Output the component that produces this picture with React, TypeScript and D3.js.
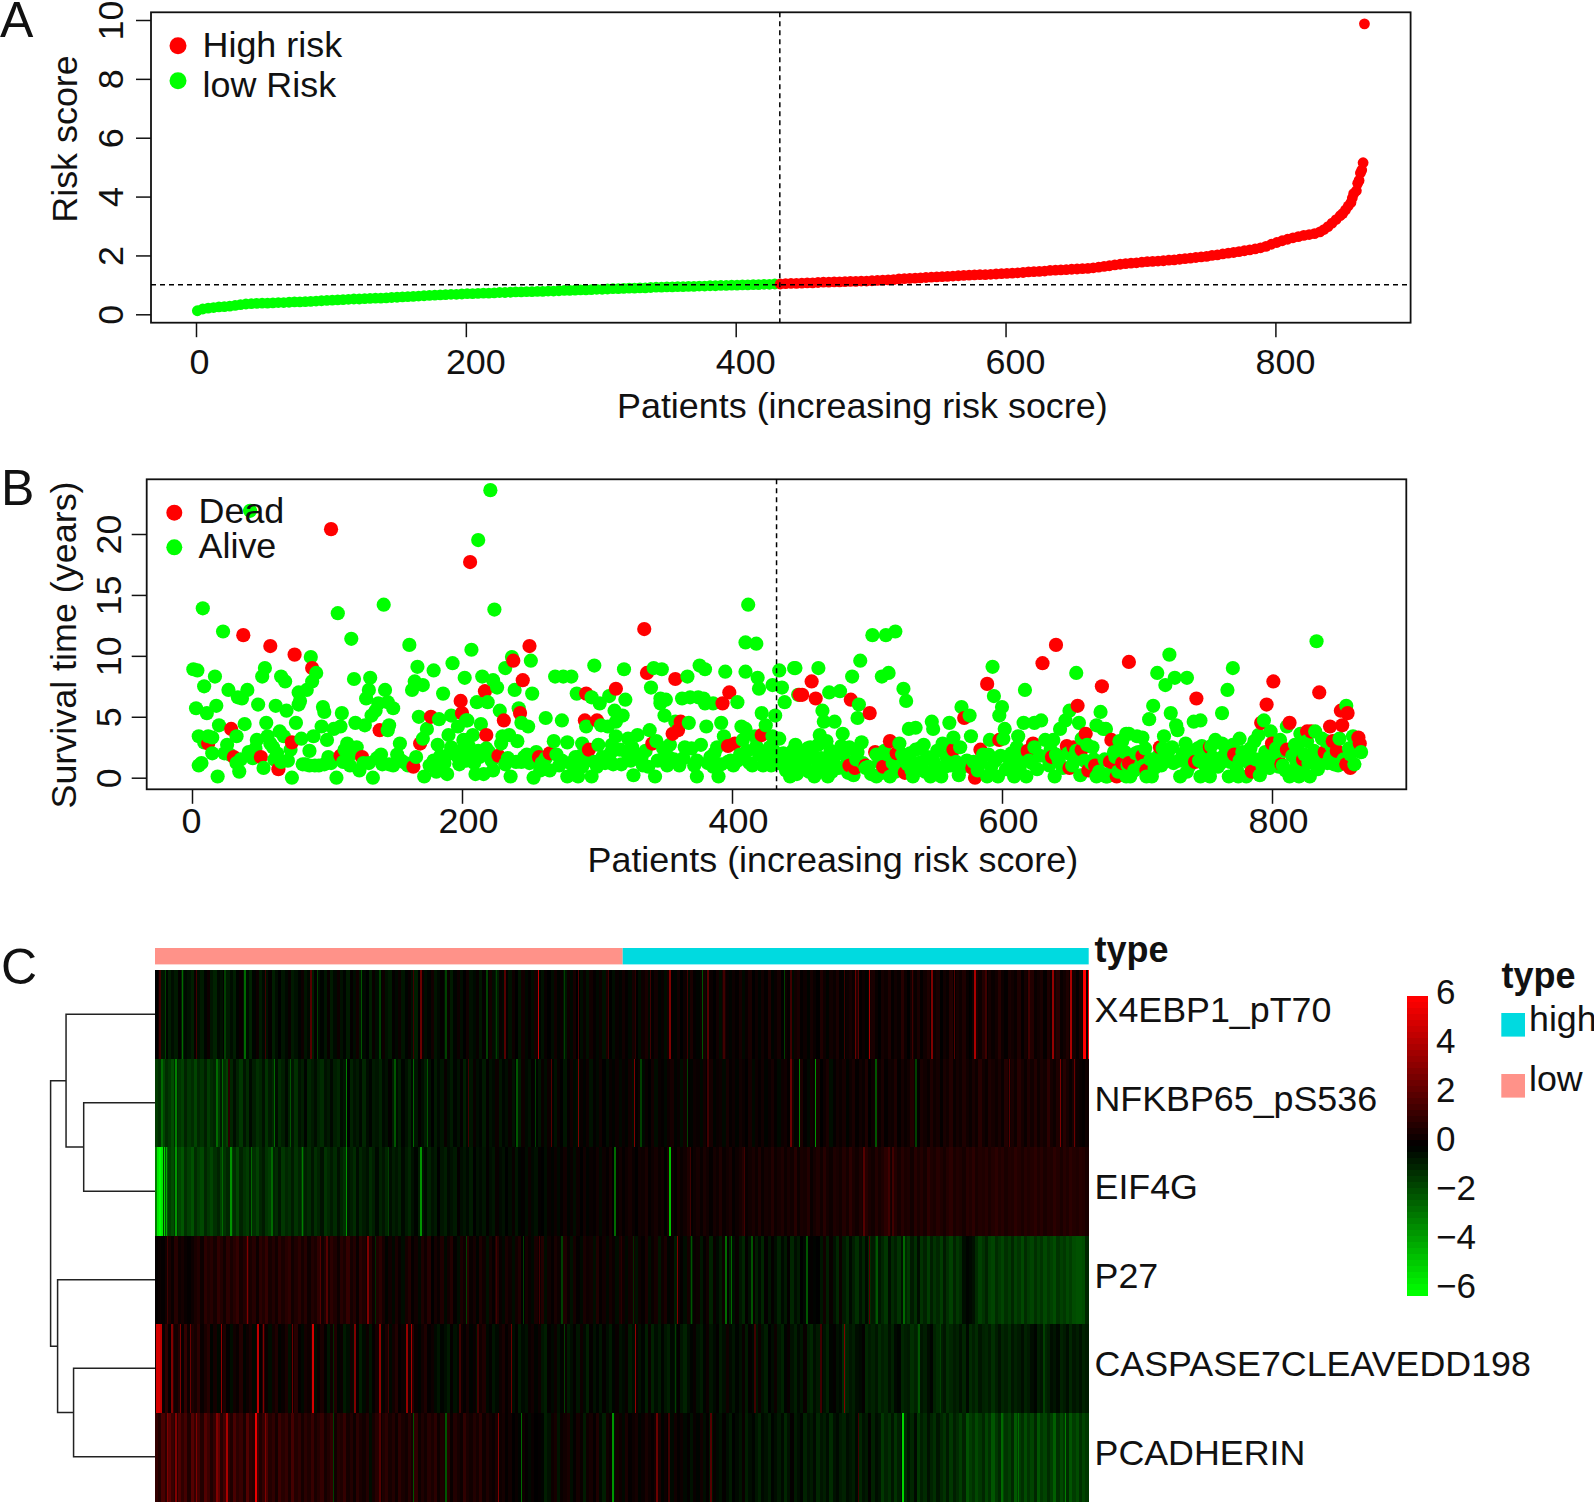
import { useEffect, useRef } from 'react';
import * as d3 from 'd3';

// Panel A: risk score per patient, sampled every 4th patient along the curve
const riskLowScores = [
  0.12,0.18,0.21,0.23,0.25,0.26,0.28,0.30,0.33,0.35,0.36,0.37,0.38,0.38,0.39,0.40,0.40,0.41,0.42,0.42,0.43,0.44,0.45,0.46,0.47,
  0.48,0.49,0.50,0.51,0.52,0.52,0.53,0.54,0.55,0.55,0.56,0.57,0.58,0.59,0.60,0.61,0.62,0.63,0.64,0.65,0.66,0.67,0.68,0.68,0.69,
  0.70,0.70,0.71,0.72,0.72,0.73,0.74,0.74,0.75,0.76,0.76,0.77,0.77,0.78,0.78,0.79,0.79,0.80,0.81,0.81,0.82,0.83,0.83,0.84,0.85,
  0.85,0.86,0.87,0.87,0.88,0.89,0.89,0.90,0.90,0.91,0.92,0.92,0.93,0.93,0.94,0.94,0.95,0.95,0.96,0.96,0.97,0.97,0.98,0.98,0.99,
  0.99,1.00,1.00,1.01,1.01,1.02,1.02,1.03,
];
const riskHighScores = [
  1.03,1.04,1.05,1.05,1.06,1.07,1.07,1.08,1.09,1.09,1.10,1.10,1.11,1.12,1.12,1.13,1.13,1.14,
  1.15,1.16,1.17,1.18,1.20,1.21,1.22,1.23,1.24,1.25,1.26,1.27,1.28,
  1.29,1.30,1.31,1.32,1.33,1.34,1.35,1.35,1.36,1.37,1.38,1.39,
  1.40,1.41,1.42,1.44,1.45,1.46,1.47,1.49,1.50,1.51,1.52,1.53,1.54,
  1.55,1.56,1.58,1.60,1.63,1.65,1.68,1.70,1.72,1.74,1.75,1.77,1.79,
  1.80,1.81,1.82,1.84,1.85,1.87,1.89,1.91,1.93,1.95,1.97,2.00,
  2.02,2.05,2.08,2.10,2.13,2.16,2.19,2.22,2.26,2.31,2.38,2.44,
  2.50,2.55,2.60,2.64,2.68,2.71,2.74,
];
// the steep tail, read point by point: [patient, score]
const riskTail = [
  [833,2.80],[836,2.88],[839,2.98],[842,3.10],[845,3.22],[848,3.35],[850,3.43],[852,3.55],[854,3.68],[856,3.80],
  [857,3.95],[858,4.10],[860,4.20],[861,4.45],[862,4.55],[863,4.80],[864,4.90],[865,5.15],[866,9.87],
];

// Panel B: [patient, survival years]
const deadPoints = [
  [38,11.7],[58,10.8],[76,10.1],[89,9.0],[29,4.0],[12,2.8],[31,1.7],[51,1.7],[64,0.7],[74,2.9],[139,3.9],[110,1.8],[126,1.7],
  [164,0.9],[169,2.8],[177,5.0],[199,6.3],[200,5.3],[103,20.4],[206,17.7],[250,10.8],[238,9.6],[245,8.0],[217,7.1],[231,4.7],
  [243,5.3],[218,3.5],[227,1.8],[257,1.7],[265,2.0],[292,6.9],[291,4.7],[300,4.7],[294,2.3],[314,7.3],[335,12.2],[337,8.6],
  [341,2.8],[358,8.1],[398,7.0],[393,6.1],[362,4.6],[360,3.9],[356,3.6],[397,2.6],[402,2.8],[422,3.5],[450,6.8],[459,7.9],
  [452,6.8],[462,6.5],[488,6.4],[502,5.3],[517,3.0],[506,2.1],[487,1.0],[491,0.8],[499,1.0],[512,0.9],[522,2.0],[528,0.4],
  [572,4.9],[564,2.3],[584,2.3],[598,3.1],[589,7.7],[578,0.8],[580,0.0],[630,9.4],[640,10.9],[674,7.5],[656,5.9],[662,3.6],
  [694,9.5],[623,2.8],[619,2.2],[637,1.7],[648,2.6],[653,2.5],[659,2.3],[650,0.8],[664,0.6],[669,1.0],[681,3.1],[685,0.1],
  [680,1.3],[690,1.2],[694,1.2],[744,6.5],[801,7.9],[835,7.0],[796,6.0],[792,4.5],[813,4.5],[800,2.8],[811,2.3],[826,3.8],
  [829,3.8],[843,4.2],[852,4.3],[856,5.3],[851,5.5],[864,3.3],[865,2.8],[848,2.2],[845,3.0],[839,2.1],[858,0.8],[855,1.1],
  [823,1.5],[807,1.1],[785,0.5],[772,1.9],[754,2.5],[743,1.3],[717,2.5],[704,1.8],[697,1.3],[689,1.2],[681,1.3],[707,0.6],
];
const alivePoints = [
  [43,21.9],[8,13.9],[23,12.0],[1,8.9],[4,8.8],[17,8.3],[9,7.5],[27,7.2],[34,6.6],[37,6.5],[41,7.2],[54,9.0],[52,8.3],[66,8.3],
  [69,7.9],[49,6.0],[62,5.9],[70,5.5],[79,6.0],[80,6.3],[79,7.0],[85,7.2],[89,7.9],[92,8.6],[88,9.9],[3,5.7],[11,5.3],[18,5.9],
  [20,4.3],[5,3.4],[15,3.3],[9,2.9],[39,4.4],[33,3.4],[26,2.7],[24,2.0],[15,2.0],[7,1.2],[5,1.0],[33,1.2],[35,0.5],[19,0.1],
  [42,2.1],[45,1.6],[48,3.1],[55,4.5],[56,3.4],[60,2.5],[65,3.8],[68,3.4],[53,0.8],[63,2.0],[71,1.4],[73,2.3],[74,0.0],[77,4.5],
  [81,3.2],[87,2.2],[82,1.1],[87,1.0],[94,1.0],[97,5.8],[98,5.4],[111,5.3],[96,4.2],[100,3.1],[90,3.4],[105,4.0],[110,4.2],
  [101,1.7],[107,0.0],[115,2.8],[122,2.5],[115,1.7],[117,1.0],[124,0.6],[131,1.2],[134,0.0],[137,1.6],[140,1.9],[120,8.1],
  [132,8.2],[131,7.2],[129,6.5],[143,7.2],[138,6.1],[145,6.2],[149,5.7],[136,5.5],[133,5.1],[121,4.5],[128,4.3],[146,4.3],
  [145,3.9],[154,2.8],[152,1.9],[149,1.0],[158,1.2],[166,1.7],[142,14.2],[108,13.5],[118,11.4],[161,10.9],[167,9.1],[179,8.8],
  [193,9.4],[165,7.9],[171,7.6],[163,7.2],[186,6.9],[202,8.2],[168,5.0],[183,4.8],[192,5.1],[197,4.2],[190,3.5],[171,3.2],
  [174,4.0],[172,0.1],[179,1.4],[182,2.7],[181,0.5],[189,0.3],[191,2.0],[197,1.7],[201,3.1],[203,4.7],[203,1.4],[201,2.4],
  [221,23.6],[212,19.5],[224,13.8],[207,10.5],[412,14.2],[410,11.1],[418,11.0],[237,9.9],[232,9.0],[251,9.6],[215,8.3],[223,8.0],
  [226,7.4],[239,7.2],[252,6.9],[211,6.2],[219,6.2],[228,5.5],[242,5.7],[204,4.7],[214,4.4],[208,3.5],[204,3.1],[230,3.4],
  [235,3.5],[229,2.8],[241,3.0],[244,4.5],[249,4.2],[262,4.9],[274,4.7],[269,8.3],[275,8.3],[281,8.3],[285,6.9],[298,9.2],
  [320,8.9],[296,6.6],[302,6.1],[309,6.7],[321,6.4],[313,5.5],[319,5.1],[314,4.6],[308,4.2],[303,4.3],[292,4.2],[268,3.0],
  [278,2.9],[289,2.8],[301,2.7],[314,3.4],[311,2.7],[206,1.7],[213,1.7],[220,2.1],[210,0.3],[216,0.3],[223,0.6],[236,0.1],
  [234,1.6],[240,1.3],[246,1.7],[255,2.1],[250,1.2],[253,0.0],[259,1.2],[265,0.6],[270,1.9],[274,1.4],[284,1.7],[278,0.1],
  [286,0.1],[296,0.1],[289,0.9],[283,1.0],[298,1.3],[306,1.2],[310,2.0],[323,3.2],[322,2.1],[330,3.5],[325,1.4],[333,1.7],
  [327,0.2],[334,1.0],[339,3.9],[344,3.0],[343,0.1],[345,1.4],[353,1.7],[354,2.7],[342,9.0],[348,8.9],[340,7.4],[347,6.5],
  [351,6.4],[347,6.1],[350,5.1],[367,8.3],[376,9.2],[380,8.9],[395,8.7],[410,8.7],[419,8.2],[420,7.3],[430,7.6],[435,8.8],
  [437,7.4],[446,9.0],[363,6.5],[369,6.6],[375,6.6],[379,6.5],[380,6.1],[386,6.1],[404,6.2],[439,6.2],[358,4.6],[368,4.5],
  [381,4.2],[392,4.5],[422,5.3],[432,5.1],[407,4.2],[410,4.0],[425,4.3],[365,2.5],[361,1.0],[374,1.4],[374,0.1],[377,2.7],
  [382,1.2],[387,2.0],[390,0.1],[394,3.4],[399,1.4],[404,1.4],[408,3.1],[415,1.0],[417,3.4],[420,1.9],[426,1.4],[430,3.4],
  [435,3.2],[428,2.5],[437,1.2],[443,0.1],[447,2.7],[446,1.4],[449,0.9],[447,9.0],[464,9.0],[495,9.6],[489,8.3],[504,11.7],
  [514,11.7],[521,12.0],[511,8.3],[516,8.6],[527,7.3],[529,6.3],[472,7.0],[480,7.1],[449,6.8],[467,5.5],[468,4.6],[476,4.6],
  [494,6.0],[493,4.9],[465,3.5],[482,3.6],[496,2.9],[458,2.5],[470,3.0],[464,2.7],[487,2.5],[444,1.4],[450,0.6],[461,0.1],
  [471,0.1],[455,1.4],[464,1.0],[475,1.4],[483,1.9],[490,0.2],[499,0.8],[507,0.1],[507,1.9],[515,1.9],[517,0.1],[524,2.8],
  [526,1.9],[531,4.0],[536,4.1],[548,4.6],[549,4.0],[561,4.5],[570,5.8],[576,5.1],[577,3.4],[564,3.3],[569,2.5],[556,2.8],
  [542,2.7],[536,2.3],[534,0.1],[547,0.1],[555,0.1],[568,0.2],[538,1.2],[549,1.4],[559,1.7],[574,1.4],[593,9.1],[594,6.7],
  [600,5.8],[598,5.1],[617,7.2],[655,8.6],[602,4.0],[591,3.1],[601,3.2],[612,3.4],[616,4.5],[624,4.5],[629,4.7],[589,0.1],
  [597,0.1],[609,0.1],[618,0.1],[590,1.9],[584,1.2],[604,1.7],[614,1.4],[606,1.0],[624,2.5],[632,3.1],[638,3.1],[643,4.0],
  [647,4.7],[650,5.5],[657,4.5],[640,1.9],[635,1.0],[639,0.1],[653,1.7],[658,0.2],[620,1.4],[667,2.5],[659,3.2],[673,5.4],
  [670,4.3],[675,4.0],[687,3.0],[692,3.6],[666,1.2],[670,0.1],[678,0.1],[684,1.7],[692,0.1],[724,10.1],[715,8.6],[721,7.6],
  [728,8.2],[737,8.2],[712,5.9],[709,4.8],[725,5.3],[729,4.3],[730,3.9],[720,3.4],[742,4.6],[747,4.7],[763,5.3],[767,7.2],
  [771,9.0],[833,11.2],[855,5.9],[677,4.0],[689,3.0],[694,3.6],[700,3.4],[704,3.3],[691,2.1],[701,2.1],[677,0.1],[695,0.1],
  [707,0.1],[711,0.1],[705,1.0],[718,1.0],[723,2.1],[727,1.2],[732,0.1],[737,0.5],[736,2.8],[737,1.7],[745,2.4],[747,0.1],
  [754,0.1],[749,1.2],[756,1.7],[758,3.1],[763,2.8],[771,2.7],[776,3.2],[768,0.1],[762,1.2],[780,1.7],[775,0.1],[781,0.1],
  [791,0.2],[776,1.4],[787,3.0],[790,3.5],[794,4.7],[799,3.8],[806,3.1],[791,1.4],[799,1.6],[811,4.2],[821,3.6],[826,3.0],
  [813,0.1],[820,0.1],[828,0.1],[805,0.9],[808,1.0],[818,1.4],[817,2.7],[830,1.7],[835,1.2],[832,3.8],[837,3.2],[840,3.0],
  [850,3.2],[843,1.7],[849,1.0],[866,2.1],[861,1.1],[858,1.9],[860,3.4],
];
// the crowded low band, where single dots are hard to separate
const aliveLowPoints = [
  [84,1.1],[91,1.0],[98,1.1],[103,1.2],[112,1.3],[113,2.3],[119,2.0],[127,1.2],[141,1.1],[146,1.1],[155,1.4],[160,1.0],[12,3.4],[28,1.9],
  [36,1.5],[47,2.4],[58,2.8],[61,1.5],[66,1.3],[176,1.0],[184,1.8],[187,1.2],[192,2.5],[195,2.0],[198,1.1],[205,2.6],[209,1.2],[212,2.2],
  [218,2.4],[222,1.4],[232,1.1],[244,1.3],[248,1.9],[252,1.6],[258,0.6],[262,1.6],[272,1.0],[280,1.2],[282,0.3],[288,1.8],[292,1.4],[300,0.9],
  [304,1.7],[312,1.1],[317,2.3],[318,1.1],[326,2.5],[329,1.9],[336,2.2],[338,0.9],[349,2.4],[352,1.0],[357,1.5],[364,1.6],[370,2.4],[372,1.0],
  [384,1.7],[386,0.9],[389,2.5],[392,1.1],[397,1.3],[401,1.0],[406,1.9],[411,2.2],[413,1.2],[418,2.6],[423,1.0],[424,2.1],[429,1.0],[431,2.2],
  [434,1.2],[438,2.0],[440,0.6],[442,1.6],[445,2.2],[448,0.3],[451,2.0],[453,0.8],[456,2.4],[457,0.5],[460,1.8],[463,0.4],[466,1.6],[469,0.9],
  [473,2.2],[474,0.5],[477,1.9],[479,0.8],[481,2.6],[485,1.1],[486,0.4],[492,1.5],[493,2.1],[497,1.2],[501,0.9],[503,0.3],[509,1.3],[511,0.4],
  [513,2.2],[519,1.2],[521,0.5],[525,1.0],[530,1.1],[532,2.0],[533,0.6],[537,0.8],[539,2.4],[541,1.3],[543,0.5],[545,1.7],[551,1.0],[552,2.2],
  [553,0.6],[558,0.9],[560,2.7],[562,1.0],[566,1.3],[571,0.9],[579,1.3],[582,0.6],[586,1.9],[592,0.9],[595,1.4],[599,1.8],[603,0.7],[607,2.0],
  [610,1.3],[611,2.5],[613,0.7],[615,1.9],[622,1.2],[626,0.7],[628,1.8],[633,1.7],[636,2.3],[642,1.4],[645,0.8],[649,2.0],[652,1.0],[655,2.2],
  [661,1.4],[663,2.7],[668,1.5],[672,0.5],[676,1.5],[680,0.4],[683,2.1],[686,0.5],[688,1.6],[693,1.0],[698,0.6],[699,2.0],[703,1.1],[706,2.4],
  [710,1.5],[713,0.8],[716,1.8],[719,2.4],[722,1.4],[726,2.5],[731,1.4],[734,2.0],[739,1.0],[740,2.2],[746,1.4],[748,2.6],[751,0.9],[752,1.8],
  [755,2.6],[759,1.5],[760,0.9],[765,1.9],[769,1.3],[774,0.6],[778,2.1],[783,1.2],[784,2.4],[788,1.5],[793,0.9],[795,2.1],[798,0.8],[802,1.4],
  [803,2.4],[809,2.2],[810,0.6],[815,1.8],[816,0.6],[819,2.3],[822,0.7],[824,1.9],[827,1.2],[831,2.2],[834,0.7],[836,1.9],[841,1.2],[844,2.6],
  [846,1.1],[853,1.5],[857,2.4],
];

// Panel C: heatmap rows, narrow bands read left to right
const rowLabels = ['X4EBP1_pT70', 'NFKBP65_pS536', 'EIF4G', 'P27', 'CASPASE7CLEAVEDD198', 'PCADHERIN'];
const x4ebp1Bands = [
  0,.4,-.5,-.1,-.7,-.3,-.6,.1,-.8,-.2,-.4,-.7,.2,-.3,-.6,-.1,.3,-.5,-.8,-.2,-.4,.1,-.6,-.3,
  -.7,-.1,.2,-.5,-.3,-.8,-.1,.3,-.6,-.2,-.4,.1,-.7,-.3,0,-.5,-.2,.2,-.6,-.4,-.1,.3,-.5,-.2,
  -.7,.1,-.3,-.1,-.5,.2,-.6,-.2,.3,-.4,-.1,-.6,.1,-.3,.4,-.5,-.2,0,-.7,.2,-.3,-.1,.3,-.4,
  -.6,.1,-.2,.3,-.5,-.1,.2,-.4,-.7,0,.3,-.3,-.1,.4,-.5,-.2,.1,-.4,.2,-.6,-.1,.3,-.3,0,
  .4,-.4,-.2,.2,-.5,.1,-.1,.5,-.3,-.6,.2,-.2,.1,-.4,.3,0,-.5,.4,-.2,.1,-.3,.5,-.1,-.4,
  .2,0,-.3,.4,-.1,.2,-.5,.3,-.2,.5,0,-.3,.2,-.4,.4,.1,-.2,.3,-.4,.6,0,-.3,.2,-.1,
  .4,.1,-.2,.5,0,-.3,.3,.6,-.2,.1,.4,-.1,.2,-.3,.5,.1,-.1,.4,0,.3,-.2,.6,.1,-.1,
  .3,.5,-.2,.2,0,.4,-.3,.6,.2,-.1,.3,.1,.5,-.2,.2,.6,0,.3,-.1,.4,.1,.7,-.1,.2,
  .5,0,.3,.1,-.2,.4,.6,.1,.3,-.1,.5,.2,0,.7,.3,-.1,.4,.2,.6,.1,-.1,.3,.5,.2,
  .8,.1,.3,-.1,.4,.6,.2,0,.5,.3,.7,.1,.4,.2,.9,.3,0,.5,.2,.6,.1,.4,.7,.2,
  .3,.6,0,.4,.2,.8,.1,.5,.3,.7,.2,0,.4,.6,.3,.8,.1,.5,.2,.4,.9,.3,.1,.6,
  .4,.2,.7,.1,.5,.3,.8,.2,.4,.6,.1,.7,.3,.5,.9,.2,.4,.7,.3,.5,.1,.6,.4,.3,
];
const nfkbBands = [
  -1.4,-1.1,-1.6,-1,-1.3,-1.8,-.9,-1.2,-1.5,-.8,-1.3,-1,-1.6,-.9,-1.2,-.7,-1.4,-1,-.8,-1.3,-.6,-1.1,-1.5,-.9,
  -.3,-.8,-1.3,-.5,-1,-.2,-.7,-1.1,-.9,-.4,-1.2,-.6,-.9,-.3,-1,-.7,-.2,-.8,-.5,-1.1,-.4,-.7,-.1,-.9,
  -.6,-.3,-.8,-1,-.4,-.6,-.2,-.7,-.9,-.3,-.5,0,-.8,-.4,-.6,-.2,-.9,-.3,-.1,-.6,-.5,-.8,-.2,-.4,
  .1,-.6,-.3,-.7,-.1,-.4,-.8,-.2,-.5,.1,-.3,-.7,-.4,0,-.6,-.2,-.5,.2,-.3,-.6,-.1,-.4,.1,-.7,
  -.2,-.5,.2,-.3,-.1,-.6,.1,-.4,-.2,.3,-.5,-.1,-.3,.2,-.4,0,-.6,.3,-.2,-.4,.1,-.1,-.5,.2,
  -.3,.3,-.1,-.4,.2,0,-.5,.1,.4,-.2,-.3,.2,-.1,.3,-.4,.1,-.2,.4,0,-.3,.2,-.1,.3,-.2,
  .2,-.1,.4,-.3,.1,.3,-.2,.2,0,.4,-.3,.2,.1,-.2,.3,.5,-.1,.2,-.3,.4,.1,-.1,.3,.2,
  -.2,.4,.1,.5,-.1,.2,.3,-.2,.5,.1,.3,-.1,.4,.2,0,.5,-.2,.3,.1,.4,-.1,.2,.5,.1,
  -.2,.3,.4,.1,.5,-.1,.2,.6,.1,-.2,.4,.2,.5,0,.3,.6,-.3,.1,.4,.2,.5,-.1,.3,.6,
  .1,.4,.2,.7,0,.3,.5,.2,.6,.1,.4,.3,.7,.1,.5,.2,.4,.8,.3,.1,.6,.4,.2,.7,
  .3,.5,.1,.6,.4,.8,.2,.5,.3,.7,.4,.2,.6,.3,.9,.4,.2,.7,.5,.3,.6,.2,.8,.4,
  .6,.3,.9,.5,.2,.7,.4,.8,.3,.6,.4,1,.5,.3,.7,.4,.9,.5,.2,.6,.3,.2,.1,.3,
];
const eif4gBands = [
  -3,-2.2,-1.5,-2,-1.4,-1.8,-1.2,-1.6,-2,-1.1,-1.5,-1.9,-1,-1.4,-1.7,-.9,-1.3,-1.6,-1.1,-.8,-1.5,-1.2,-.9,-1.4,
  -1,-1.6,-.8,-1.2,-1.4,-.7,-1.1,-1.5,-.9,-.6,-1.2,-1.4,-.8,-1,-.5,-1.3,-.9,-1.1,-.6,-1.2,-.8,-1.4,-.7,-1,
  -.5,-1.1,-.8,-.4,-1.2,-.9,-.6,-1,-.4,-.8,-1.1,-.5,-.7,-1,-.3,-.9,-.6,-.4,-1,-.7,-.2,-.8,-.5,-.9,
  -.3,-.7,-.5,-.8,-.2,-.6,-.9,-.4,-.1,-.7,-.5,-.2,-.8,-.4,-.6,0,-.5,-.7,-.2,-.4,-.6,.1,-.3,-.5,
  -.2,-.6,0,-.4,-.2,-.5,.1,-.3,-.5,.2,-.2,-.4,0,-.3,.2,-.5,-.1,.1,-.3,.3,-.2,-.4,.1,0,
  -.3,.2,-.1,.3,-.2,.1,.4,-.1,.2,-.3,.3,0,.4,-.1,.2,.1,.4,-.2,.3,.1,.5,0,.2,.4,
  .1,.3,.5,.2,0,.4,.3,.6,.1,.3,.5,.2,.4,0,.6,.3,.1,.5,.2,.4,.7,.1,.3,.5,
  .2,.6,.4,.1,.5,.3,.7,.2,.4,.6,.1,.3,.5,.8,.2,.4,.6,.3,.7,.2,.5,.4,.8,.3,
  .5,.7,.3,.6,.4,.9,.3,.6,.5,.8,.2,.5,.7,.4,.9,.5,.3,.7,.6,.4,.8,.5,1,.6,
  .4,.7,.5,.9,.6,.4,.8,.5,.7,1,.6,.4,.8,.5,.9,.6,.7,.4,.9,.6,.8,.5,1,.7,
  .6,.9,.7,.5,.8,1,.6,.8,.7,.5,.9,.7,1,.6,.8,.7,.9,.6,.8,1,.7,.9,.6,.8,
  .7,1,.8,.6,.9,.7,.8,1,.7,.9,.6,.8,.7,1,.8,.6,.9,.7,1,.8,.7,.9,.8,.6,
];
const p27Bands = [
  .1,.2,.1,.4,.6,.2,.9,.3,.5,.2,.1,.3,.6,.8,.3,1,.7,.9,.5,1.1,.8,.4,1,.6,
  .9,1.2,.5,.8,1.1,.6,.9,.3,1,.7,1.2,.5,.8,.4,1,.6,.9,1.1,.4,.7,1,.5,.9,.3,
  .8,.6,1.1,.4,.8,.5,1,.7,.3,.9,.6,1.2,.5,.8,.2,1,.7,.4,.9,.3,.7,1,.5,-.1,
  .4,-.2,.6,.2,-.3,.5,.8,.1,.4,-.2,.7,.3,.9,0,.5,.2,.7,-.2,.4,.8,.1,-.3,.6,.3,
  .9,.2,.5,-.1,.7,.3,-.4,.5,.1,.8,.2,-.2,.6,.3,-.3,.4,.7,0,.5,.2,-.2,.6,.3,.8,
  -.3,.4,.1,.6,.3,-.2,.7,.2,-.4,.5,.1,-.2,.6,.3,.4,-.3,.7,.1,.4,-.2,.5,.2,-.3,.6,
  .3,-.2,.4,.5,-.4,.3,.1,.6,-.3,.2,.5,-.5,.3,.6,-.1,.2,-.6,.4,.1,-.3,.5,-.7,.2,.3,
  -.5,.1,.4,-.8,.2,-.2,-.6,.3,.1,-.7,-.3,.2,-.5,-.9,.1,-.4,.2,-.7,-.2,-.9,.1,-.5,.1,-.3,
  -.8,-.2,-.6,.1,-.9,-.3,-.6,0,-.2,-.1,.1,-.1,0,-.5,.4,-.7,.2,-.4,-.9,.3,-.6,-1,-.2,-.7,
  -1.1,-.4,-.9,-.2,-1,-.6,-1.2,-.5,-.9,-1.3,-.3,-1,-.7,-1.2,-.4,-.9,-1.3,-.6,-1.1,-.3,-1.2,-.8,-1.4,-.7,
  -1.2,-.9,-1.4,-.6,-1.1,-1.5,-.8,-1.3,-1,-.3,-.1,-.2,-.4,-1,-1.5,-1.2,-.8,-1.4,-1.6,-1,-1.3,-1.6,-1.1,-1.4,
  -.9,-1.5,-1.2,-1.7,-1,-1.4,-1.6,-1.1,-1.5,-1.2,-1.7,-1.3,-1.5,-1.8,-1.2,-1.5,-1.3,-1.7,-1.4,-1.8,-1.9,-1.9,-1.8,-.9,
];
const caspaseBands = [
  .5,.9,.2,1,.1,1.1,.4,.8,.2,1.2,.3,.7,.5,1,.2,.6,.9,-.1,.5,-.2,.3,.7,.1,-.3,
  .4,.2,.8,-.1,.3,.6,-.2,.5,.1,.9,.2,-.3,.4,.7,-.1,.2,.6,-.4,.3,.9,.1,-.2,.5,.3,
  .8,-.3,.2,.6,.1,-.5,.3,.7,-.1,.2,-.6,-.3,.4,-.4,.1,-.7,-.2,.3,-.5,.1,.5,-.3,.2,.6,
  -.2,.4,.8,.1,.3,-.2,.5,.9,.2,-.1,.4,.7,.1,.3,-.2,-.5,-.1,-.3,-.6,.1,-.4,-.2,.3,.1,
  .5,-.1,.2,-.4,.4,.7,-.2,.1,-.5,-.2,.3,.6,.1,.4,-.3,.1,-.6,-.2,-.4,.2,.4,-.1,.3,-.5,
  -.7,.1,-.2,.3,-.4,-.1,.2,-.6,-.3,.1,-.5,.3,-.2,-.7,.1,-.4,-.1,-.5,.1,-.3,-.6,-.1,.2,-.4,
  -.2,.2,-.6,-.3,.3,-.4,-.1,-.7,.2,-.8,-.3,-.6,-.1,-.5,-.7,-.2,-.4,.1,-.5,-.8,-.3,-.1,.2,-.4,
  -.6,-.1,.3,-.5,-.2,.1,-.6,-.3,.4,-.2,-.5,-.1,-.4,.2,-.6,.1,-.2,-.5,.3,-.4,-.7,0,-.3,.3,
  -.5,-.8,-.1,.2,-.4,-.7,-.2,-.5,.2,-.7,-.9,-.3,-.6,-.2,-.4,-.8,-.1,.1,-.4,-.2,-1,-.8,-.5,-.7,
  -.3,-.2,.1,-.9,-.6,-.8,-.5,-1,-.7,-.9,-.4,-.8,-.2,-.1,-.9,-.7,-.6,-1.1,-.8,-1,-.5,-.7,-.3,-.1,
  -.8,-1,-.7,-.5,-1.1,-.9,-.6,-.8,-.4,-.9,-.2,-1,-.7,-1,-.5,-.8,-.9,-.6,-1.1,-.7,-.4,-.9,-.7,-1,
  -.5,-.8,-.6,-.3,-.8,-.6,-.3,-.1,-.7,-.5,-.9,-.7,-.3,-.5,-.2,-.8,-.6,-.3,-.9,-.5,-.7,-.4,-.8,-.6,
];
const pcadherinBands = [
  1.2,.8,1.7,1,2.1,1.3,.9,1.8,1.1,1.6,.7,2,1.2,1.5,.8,1.9,1.4,.7,1.2,2.2,.9,1.5,1.1,.7,
  1.7,1,1.3,.6,1.9,1,.8,1.4,.7,1.2,1.7,.8,1.1,.5,1.4,.9,1.2,.6,1.6,.8,1.1,.5,1,.7,
  1.3,.6,.9,1.2,.5,.8,1.1,.4,.9,.7,1.2,.5,.8,.3,1,.6,.4,.8,-.3,.5,.9,.3,.7,1,
  .5,.8,.3,1,.6,.4,.9,.5,1.1,.3,.7,.4,.9,.6,1,.3,.7,.5,.9,.2,.8,.5,.3,1.1,
  .6,.4,.8,.5,1,.3,.7,.4,.2,.6,.3,.5,.1,.4,0,.2,-.1,.3,.1,-.2,.2,0,.1,-.1,
  -.7,-.4,.3,.5,-.5,.2,.4,.6,-.3,.1,.5,.2,-.6,.3,.5,.1,.7,-.2,-.7,.4,.2,-.4,.5,.3,
  -.2,.6,.1,.3,.5,-.1,.2,.6,.3,.1,.4,.6,-.1,.3,.1,-.2,.4,.1,.3,-.2,.1,-.4,.2,-.1,
  .4,-.3,.1,-.5,.2,-.2,-.4,.1,-.3,-.6,0,-.2,-.5,.2,-.7,-.3,-.1,-.5,-.8,-.2,-.4,-.7,-.1,-.3,
  -.6,-.2,-.9,-.4,.1,-.6,-.3,-.1,-.8,-.4,-.6,-.2,-.9,-.5,-.7,-.3,-1,-.4,-.2,-.6,-.8,-.3,-.5,-.7,
  -.2,-.9,-.4,-.6,.1,-.8,-.3,-.5,-1.3,-.8,-1.1,-.5,-1.2,-.7,-.3,-1,-.5,-.9,-.2,-1.3,-.7,-1,-.4,-.8,
  -1.1,-.5,-.9,-1.2,-.6,-1.3,-.7,-1,-1.4,-.8,-1.9,-1.4,-1.1,-1.7,-1.3,-.9,-1.6,-1.1,-2,-1.3,-.9,-1.7,-1.2,-1.5,
  -.9,-2.1,-1.4,-1.1,-1.8,-1.2,-1.6,-.9,-2,-1.3,-1.6,-1,-1.4,-2.2,-1.1,-1.7,-1.3,-1,-2,-1.4,-1.8,-1.1,-1.6,-1.3,
];
const heatBands = [x4ebp1Bands, nfkbBands, eif4gBands, p27Bands, caspaseBands, pcadherinBands];

// Single-patient stripes that stand out from the bands: [patient, value]
const x4ebp1Stripes = [
  [25,-2.5],[9,-1.5],[83,-2.5],[64,-1.5],[150,-1.5],[191,-2],[208,-1.5],[269,-1.5],[307,-1.5],[316,-1.5],[379,-1.5],[4,1.5],[38,1.5],[144,2],
  [246,2.5],[324,2],[355,4.5],[392,2],[420,1.5],[239,1.5],[102,1.5],[477,3],[459,1.5],[445,1],[512,2],[527,1.5],[493,1.5],[507,-2],[583,-1.5],
  [589,1.5],[649,2.5],[652,2],[662,4],[639,1.5],[702,1.5],[720,3],[741,2],[760,4],[770,1.5],[810,1.5],[832,3.5],[849,4],[861,6],[862,6],[865,6],
];
const nfkbStripes = [
  [19,-3],[6,-2.5],[57,-2.5],[62,-2.5],[110,-2.5],[125,-2],[177,-3],[222,-2],[239,-2.5],[252,-2],[335,-2],[352,-1.5],[68,1],[290,1.5],[367,2],
  [392,3],[444,3],[589,2.5],[839,3],[852,2.5],[792,2],[512,1.5],[450,-1.5],[597,-3],[612,-3.5],[493,-1.5],[668,-2],[705,-1.5],
];
const eif4gStripes = [
  [2,-5.5],[4,-6],[6,-5.5],[8,-5],[10,-4],[19,-3.5],[70,-3.5],[62,-2.5],[136,-3],[177,-3.5],[246,-3.5],[426,-2.5],[89,-2.5],[108,-2.5],[216,-1.5],
  [477,-4.5],[496,1.5],[546,1.5],[657,2],[680,1.5],[684,1.5],
];
const p27Stripes = [
  [85,3],[11,1.5],[153,2],[159,2],[197,3],[316,1.5],[356,1.5],[432,1],[288,-1.5],[341,-1.5],[377,-1.5],[204,-1],[443,-1],[484,3],[662,2],
  [497,-2],[529,-2.5],[534,-2.5],[553,-2],[604,-2],[669,-2],[694,-2.5],
];
const caspaseStripes = [
  [1,5],[3,5],[5,4.5],[15,3],[23,3],[32,2.5],[61,3.5],[95,4.5],[100,3],[127,2.5],[146,5],[185,3],[208,3.5],[216,1.5],[233,3.5],[237,4],[282,1.5],
  [330,2.5],[299,1.5],[165,-1],[379,-1.5],[445,3.5],[639,3],[617,1.5],[556,1.5],[482,-1.5],[708,-2],[728,-1.5],[824,-1.5],
];
const pcadherinStripes = [
  [11,3],[19,3],[38,3],[66,4],[93,5.5],[102,3],[57,3],[208,2],[318,3],[269,-2],[239,-2],[339,-2.5],[424,-3.5],[165,-1.5],[693,-5],[844,-3],
  [465,2.5],[476,1.5],[652,1.5],[515,2],[785,-2.5],[800,-2.5],
];
const heatStripes = [x4ebp1Stripes, nfkbStripes, eif4gStripes, p27Stripes, caspaseStripes, pcadherinStripes];

const legendTicks = [6, 4, 2, 0, -2, -4, -6];

// Dendrogram merge heights, relative to the root
const dendroTree = {
  height: 1,
  children: [
    { height: 0.852, children: [{ leaf: 0 }, { height: 0.683, children: [{ leaf: 1 }, { leaf: 2 }] }] },
    { height: 0.933, children: [{ leaf: 3 }, { height: 0.78, children: [{ leaf: 4 }, { leaf: 5 }] }] },
  ],
};

const FONT = "'Liberation Sans', Arial, sans-serif";
const RED = '#ff0000';
const GREEN = '#00ff00';
const SALMON = '#ff9289';
const CYAN = '#00dae0';
const INK = '#111';
const SIZE = 35.9;

export default function App() {
  const svgRef = useRef<SVGSVGElement>(null);

  useEffect(() => {
    if (!svgRef.current) return;
    const svg = d3.select(svgRef.current);
    svg.selectAll('*').remove();

    const label = (x: number, y: number, text: string, opts: any = {}) =>
      svg.append('text')
        .attr('x', x)
        .attr('y', y)
        .attr('font-family', FONT)
        .attr('font-size', opts.size ?? SIZE)
        .attr('font-weight', opts.weight ?? 'normal')
        .attr('text-anchor', opts.anchor ?? 'start')
        .attr('fill', INK)
        .text(text);

    const rotatedLabel = (x: number, y: number, text: string) =>
      svg.append('text')
        .attr('transform', `translate(${x},${y}) rotate(-90)`)
        .attr('font-family', FONT)
        .attr('font-size', SIZE)
        .attr('text-anchor', 'middle')
        .attr('fill', INK)
        .text(text);

    // Box and R-style axes shared by the two scatter panels
    const scatterFrame = (
      box: { left: number; right: number; top: number; bottom: number },
      x: d3.ScaleLinear<number, number>,
      y: d3.ScaleLinear<number, number>,
      yTicks: number[],
      labels: { padding: number; zeroDx: number; dx: number; yOffset: number },
    ) => {
      const xAxis = svg.append('g')
        .attr('transform', `translate(0,${box.bottom})`)
        .call(d3.axisBottom(x).tickValues([0, 200, 400, 600, 800]).tickSize(14.5).tickPadding(labels.padding).tickFormat(d3.format('d') as any));
      xAxis.select('.domain').remove();
      xAxis.selectAll('line').attr('stroke', INK).attr('stroke-width', 1.5);
      xAxis.selectAll('text')
        .attr('fill', INK)
        .attr('font-size', SIZE)
        .attr('font-family', FONT)
        .attr('dx', (d: any) => (d === 0 ? labels.zeroDx : labels.dx));

      const yAxis = svg.append('g')
        .attr('transform', `translate(${box.left},0)`)
        .call(d3.axisLeft(y).tickValues(yTicks).tickSize(15).tickFormat(d3.format('d') as any));
      yAxis.select('.domain').remove();
      yAxis.selectAll('line').attr('stroke', INK).attr('stroke-width', 1.5);
      yAxis.selectAll('text')
        .attr('fill', INK)
        .attr('font-size', SIZE)
        .attr('font-family', FONT)
        .attr('text-anchor', 'middle')
        .attr('dy', 0)
        .attr('x', 0)
        .attr('y', 0)
        .attr('transform', `translate(${labels.yOffset},0) rotate(-90)`);

      svg.append('rect')
        .attr('x', box.left)
        .attr('y', box.top)
        .attr('width', box.right - box.left)
        .attr('height', box.bottom - box.top)
        .attr('fill', 'none')
        .attr('stroke', INK)
        .attr('stroke-width', 1.8);
    };

    const dashed = (x1: number, y1: number, x2: number, y2: number) =>
      svg.append('line')
        .attr('x1', x1).attr('y1', y1).attr('x2', x2).attr('y2', y2)
        .attr('stroke', '#000')
        .attr('stroke-width', 1.5)
        .attr('stroke-dasharray', '5,4');

    // --- Panel A ---
    const boxA = { left: 151, right: 1410.6, top: 12.3, bottom: 322.7 };
    const xA = d3.scaleLinear().domain([0, 800]).range([196, 1275.4]);
    const yA = d3.scaleLinear().domain([0, 10]).range([314.3, 20]);
    scatterFrame(boxA, xA, yA, [0, 2, 4, 6, 8, 10], { padding: 11, zeroDx: 3, dx: 9.5, yOffset: -28 });

    const riskPoints = [
      ...riskLowScores.map((v, i) => ({ p: 1 + i * 4, v, color: GREEN })),
      ...riskHighScores.map((v, i) => ({ p: 433 + i * 4, v, color: RED })),
      ...riskTail.map(([p, v]) => ({ p, v, color: RED })),
    ];
    svg.append('g').selectAll('circle').data(riskPoints).join('circle')
      .attr('cx', d => xA(d.p))
      .attr('cy', d => yA(d.v))
      .attr('r', 5.4)
      .attr('fill', d => d.color);

    dashed(boxA.left, yA(1), boxA.right, yA(1));
    dashed(xA(432.7), boxA.top, xA(432.7), boxA.bottom);

    [['High risk', RED, 45.7, 56.7], ['low Risk', GREEN, 80.7, 97]].forEach(([text, color, cy, base]: any) => {
      svg.append('circle').attr('cx', 178).attr('cy', cy).attr('r', 8.5).attr('fill', color);
      label(202.5, base, text);
    });
    rotatedLabel(77, 139, 'Risk score');
    label(617, 418, 'Patients (increasing risk socre)');

    // --- Panel B ---
    const boxB = { left: 146.7, right: 1406.3, top: 479.3, bottom: 789.3 };
    const xB = d3.scaleLinear().domain([0, 800]).range([192, 1272]);
    const yB = d3.scaleLinear().domain([0, 20]).range([777.7, 534]);
    scatterFrame(boxB, xB, yB, [0, 5, 10, 15, 20], { padding: 4, zeroDx: -1, dx: 6, yOffset: -26 });

    const survivalPoints = [
      ...deadPoints.map(([p, t]) => ({ p, t, color: RED })),
      ...alivePoints.map(([p, t]) => ({ p, t, color: GREEN })),
      ...aliveLowPoints.map(([p, t]) => ({ p, t, color: GREEN })),
    ].sort((a, b) => d3.ascending(a.p, b.p));
    svg.append('g').selectAll('circle').data(survivalPoints).join('circle')
      .attr('cx', d => xB(d.p))
      .attr('cy', d => yB(d.t))
      .attr('r', 7.1)
      .attr('fill', d => d.color);

    dashed(xB(433), boxB.top, xB(433), boxB.bottom);

    [['Dead', RED, 512.7, 523], ['Alive', GREEN, 547.3, 557.5]].forEach(([text, color, cy, base]: any) => {
      svg.append('circle').attr('cx', 174.3).attr('cy', cy).attr('r', 8).attr('fill', color);
      label(198.5, base, text);
    });
    rotatedLabel(76, 645, 'Survival time (years)');
    label(587.5, 872, 'Patients (increasing risk score)');

    // --- Panel C ---
    const heatX = d3.scaleLinear().domain([0, 866]).range([155, 1088.7]);
    const heatY = d3.scaleBand<number>().domain(d3.range(rowLabels.length)).range([970, 1501]);
    const heatColor = d3.scaleLinear<string>().domain([-6, 0, 6]).range([GREEN, '#000000', RED]);

    svg.append('rect').attr('x', heatX(0)).attr('y', 948).attr('width', heatX(433.8) - heatX(0)).attr('height', 16.4).attr('fill', SALMON);
    svg.append('rect').attr('x', heatX(433.8)).attr('y', 948).attr('width', heatX(866) - heatX(433.8)).attr('height', 16.4).attr('fill', CYAN);

    const heat = svg.append('g').attr('shape-rendering', 'crispEdges');
    heatBands.forEach((bands, row) => {
      const bandX = d3.scaleBand<number>().domain(d3.range(bands.length)).range([heatX(0), heatX(866)]);
      heat.append('g').selectAll('rect').data(bands).join('rect')
        .attr('x', (_, i) => bandX(i)!)
        .attr('y', heatY(row)!)
        .attr('width', bandX.bandwidth() + 0.5)
        .attr('height', heatY.bandwidth() + 0.5)
        .attr('fill', d => heatColor(d));
      heat.append('g').selectAll('rect').data(heatStripes[row]).join('rect')
        .attr('x', d => heatX(d[0]))
        .attr('y', heatY(row)!)
        .attr('width', d => heatX(d[0] + 1.4) - heatX(d[0]))
        .attr('height', heatY.bandwidth() + 0.5)
        .attr('fill', d => heatColor(d[1]));
    });

    rowLabels.forEach((name, row) => {
      label(1094.5, heatY(row)! + heatY.bandwidth() / 2 + 8, name, { size: 35.8 });
    });
    label(1094.5, 962, 'type', { size: 36, weight: 'bold' });

    // Dendrogram
    const dendroX = d3.scaleLinear().domain([0, 1]).range([155, 50.6]);
    const dendroPath = d3.path();
    const walk = (node: any): { x: number; y: number } => {
      if (node.leaf !== undefined) {
        return { x: dendroX(0), y: heatY(node.leaf)! + heatY.bandwidth() / 2 };
      }
      const [a, b] = node.children.map(walk);
      const x = dendroX(node.height);
      dendroPath.moveTo(a.x, a.y);
      dendroPath.lineTo(x, a.y);
      dendroPath.lineTo(x, b.y);
      dendroPath.lineTo(b.x, b.y);
      return { x, y: (a.y + b.y) / 2 };
    };
    walk(dendroTree);
    svg.append('path').attr('d', dendroPath.toString()).attr('fill', 'none').attr('stroke', '#222').attr('stroke-width', 1.5);

    // Colour bar
    const barY = d3.scaleLinear().domain([6, -6]).range([996.4, 1295.7]);
    const labelY = d3.scaleLinear().domain([6, -6]).range([1004, 1298]);
    const steps = d3.range(50);
    const stepY = d3.scaleBand<number>().domain(steps).range([barY(6), barY(-6)]);
    const stepValue = d3.scaleLinear().domain([0, 49]).range([6, -6]);
    svg.append('g').attr('shape-rendering', 'crispEdges').selectAll('rect').data(steps).join('rect')
      .attr('x', 1407.3)
      .attr('y', d => stepY(d)!)
      .attr('width', 20.4)
      .attr('height', stepY.bandwidth() + 0.5)
      .attr('fill', d => heatColor(stepValue(d)));
    legendTicks.forEach(t => {
      label(1436, labelY(t), d3.format('d')(t).replace('-', '\u2212'), { size: 35 });
    });

    // Annotation legend
    label(1501.5, 988, 'type', { size: 36, weight: 'bold' });
    svg.append('rect').attr('x', 1501.3).attr('y', 1013).attr('width', 23.7).attr('height', 23.6).attr('fill', CYAN);
    svg.append('rect').attr('x', 1501.3).attr('y', 1074).attr('width', 23.7).attr('height', 23.6).attr('fill', SALMON);
    label(1529, 1031, 'high', { size: 35.8 });
    label(1529, 1090.5, 'low', { size: 35.8 });

    // Panel letters
    label(0, 37, 'A', { size: 50 });
    label(1, 505, 'B', { size: 50 });
    label(1, 984, 'C', { size: 50 });
  }, []);

  return (
    <svg
      ref={svgRef}
      width={1594}
      height={1502}
      style={{ position: 'absolute', left: 0, top: 0, background: '#fff' }}
    />
  );
}
